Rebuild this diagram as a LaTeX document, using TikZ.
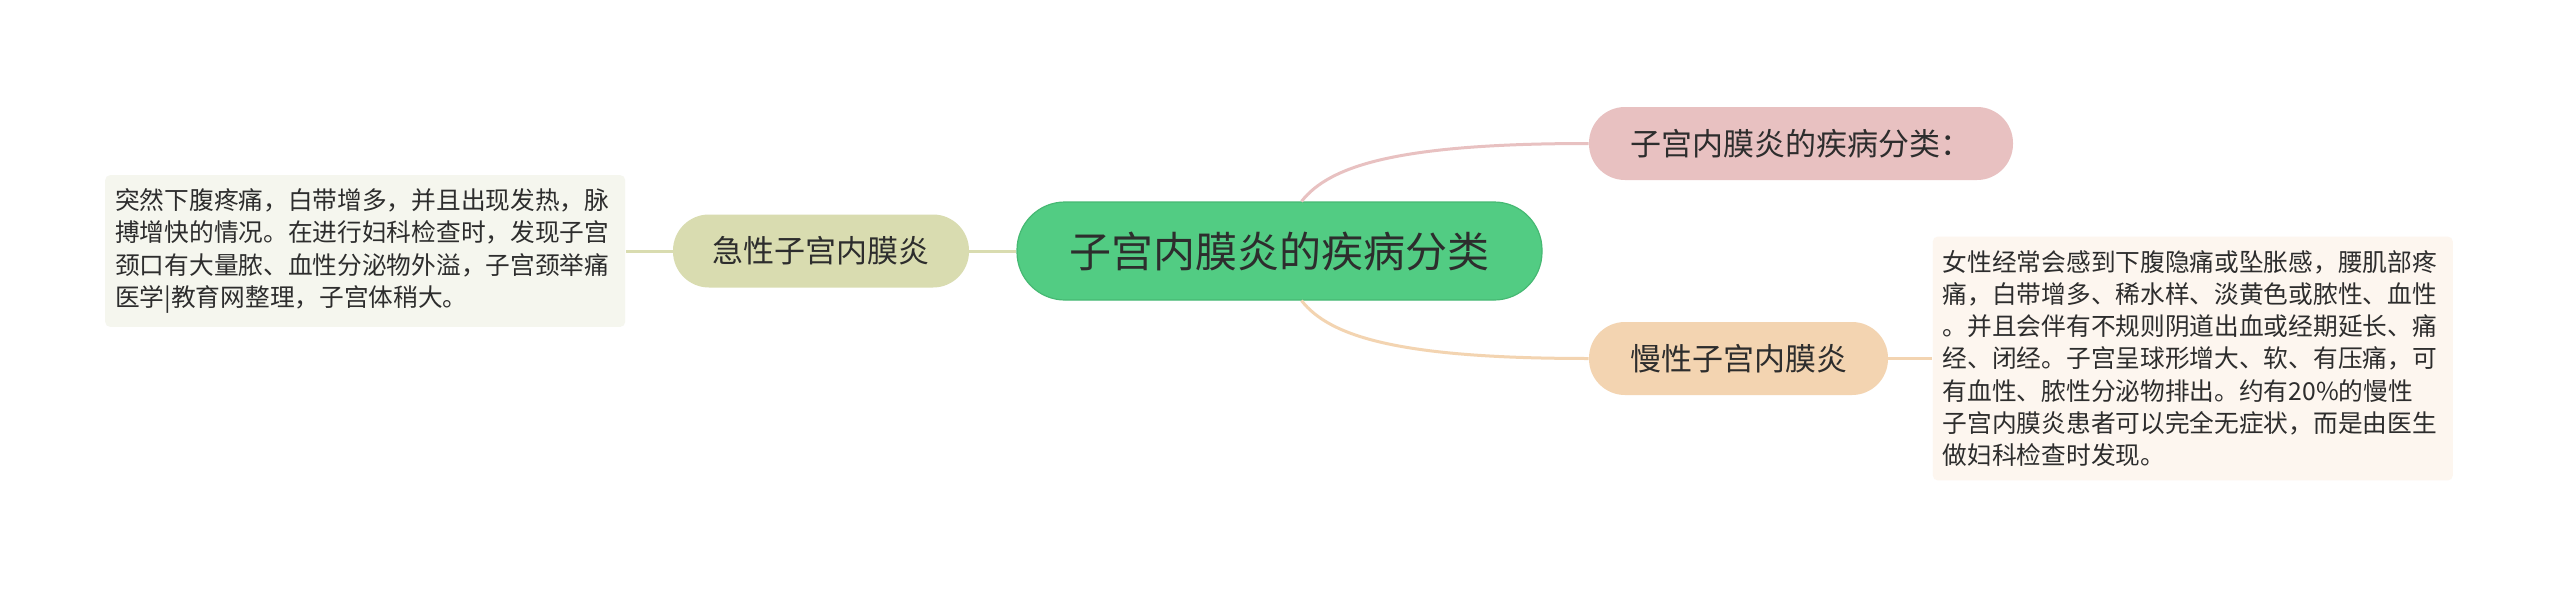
\documentclass[tikz,border=0pt]{standalone}
\usepackage{fontspec}
\setmainfont{Noto Sans CJK SC}
\usetikzlibrary{positioning}

\definecolor{rootgreen}{RGB}{82,204,131}
\definecolor{rootedge}{RGB}{70,185,115}
\definecolor{acutefill}{RGB}{217,220,176}
\definecolor{acutenote}{RGB}{245,246,238}
\definecolor{kindfill}{RGB}{232,193,193}
\definecolor{chronicfill}{RGB}{243,212,177}
\definecolor{chronicnote}{RGB}{253,246,239}
\definecolor{textgray}{RGB}{45,45,45}

\begin{document}
\begin{tikzpicture}[x=0.5pt, y=-0.5pt,
                    rootnode/.style={rounded corners=24pt, fill=rootgreen, draw=rootedge, line width=0.6pt, minimum width=262.5pt, minimum height=49pt, inner sep=0pt, text=textgray, font=\fontsize{21pt}{25pt}\selectfont},
                    kindnode/.style={rounded corners=18pt, minimum height=36.5pt, inner sep=0pt, text=textgray, font=\fontsize{15.5pt}{19pt}\selectfont},
                    notenode/.style={rounded corners=2.5pt, text width=250pt, align=left, inner xsep=5pt, inner ysep=6.75pt, text=textgray, font=\fontsize{12.35pt}{16.15pt}\selectfont},
                    linkline/.style={line width=1.5pt},
                ]
                    \fill[white] (0,0) rectangle (2560,589);
                    \useasboundingbox (0,0) rectangle (2560,589);

                    %Nodes
                    \node[rootnode](root) at (1279.5,251) {子宫内膜炎的疾病分类};
                    \node[kindnode, fill=acutefill, minimum width=148pt](acute)[left=23.5pt of root] {急性子宫内膜炎};
                    \node[notenode, fill=acutenote](acutenote)[left=23.5pt of acute] {突然下腹疼痛，白带增多，并且出现发热，脉\\搏增快的情况。在进行妇科检查时，发现子宫\\颈口有大量脓、血性分泌物外溢，子宫颈举痛\\医学|教育网整理，子宫体稍大。};
                    \node[kindnode, fill=kindfill, minimum width=212pt](kinds) at (1801,143.5) {子宫内膜炎的疾病分类：};
                    \node[kindnode, fill=chronicfill, minimum width=149.5pt](chronic) at (1738.5,358.5) {慢性子宫内膜炎};
                    \node[notenode, fill=chronicnote](chronicnote)[right=22pt of chronic] {女性经常会感到下腹隐痛或坠胀感，腰肌部疼\\痛，白带增多、稀水样、淡黄色或脓性、血性\\。并且会伴有不规则阴道出血或经期延长、痛\\经、闭经。子宫呈球形增大、软、有压痛，可\\有血性、脓性分泌物排出。约有20\%的慢性\\子宫内膜炎患者可以完全无症状，而是由医生\\做妇科检查时发现。};

                    %Lines
                    \draw[linkline, acutefill](root.west) -- (acute.east);
                    \draw[linkline, acutefill](acute.west) -- (acutenote.east);
                    \draw[linkline, kindfill]([xshift=11pt]root.north) .. controls (1330,165) and (1400,143.5) .. (kinds.west);
                    \draw[linkline, chronicfill]([xshift=11pt]root.south) .. controls (1330,337) and (1400,358.5) .. (chronic.west);
                    \draw[linkline, chronicfill](chronic.east) -- (chronicnote.west);
                \end{tikzpicture}
\end{document}
